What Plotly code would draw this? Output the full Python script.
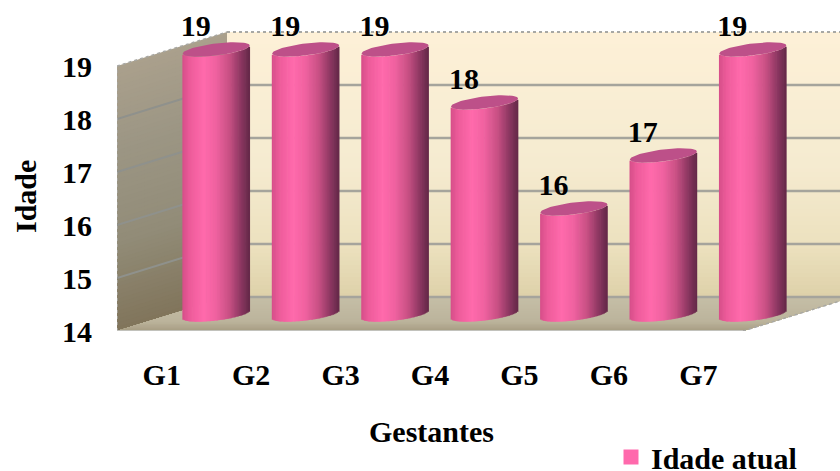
import numpy as np
import plotly.graph_objects as go

categories = ["G1", "G2", "G3", "G4", "G5", "G6", "G7"]
idade_atual = [19, 19, 19, 18, 16, 17, 19]
value_ticks = [14, 15, 16, 17, 18, 19]
series_name = "Idade atual"
x_title = "Gestantes"
y_title = "Idade"

FONT = "Liberation Serif"
FONT_SIZE = 30
BASE = 14

# Chart box in pixels, used to keep the oblique projection proportional
PLOT_LEFT, PLOT_BOTTOM = 117, 331
W, H = 840, 471
PX_PER_CAT = 89.43
PX_PER_UNIT = 53.0

# Oblique projection: how far the full depth of the box moves a point
DEPTH_X = 110 / PX_PER_CAT
DEPTH_Y = 34 / PX_PER_UNIT
X0 = -0.5
X1 = X0 + len(categories)

x_range = [X0, X0 + (W - PLOT_LEFT) / PX_PER_CAT]
y_range = [BASE, BASE + PLOT_BOTTOM / PX_PER_UNIT]

bold = dict(family=FONT, size=FONT_SIZE, color="#000", weight=700)


def ramp(stops, t):
    pos = [s[0] for s in stops]
    rgb = [np.interp(t, pos, [s[1][c] for s in stops]) for c in range(3)]
    return "rgb(%d,%d,%d)" % tuple(int(round(c)) for c in rgb)


def poly(points, fill):
    path = "M " + " L ".join(f"{x:.4f},{y:.4f}" for x, y in points) + " Z"
    return dict(type="path", path=path, xref="x", yref="y", layer="below",
                fillcolor=fill, line=dict(width=0))


def seg(p, q, color, width, dash="solid"):
    return dict(type="line", xref="x", yref="y", layer="below",
                x0=p[0], y0=p[1], x1=q[0], y1=q[1],
                line=dict(color=color, width=width, dash=dash))


BACK_WALL = [(0, (221, 208, 168)), (0.2, (236, 225, 190)), (0.5, (245, 235, 208)),
             (1, (253, 240, 215))]
SIDE_WALL = [(0, (128, 116, 90)), (0.35, (146, 140, 120)), (0.7, (156, 150, 132)),
             (1, (170, 160, 140))]
FLOOR = [(0, (165, 155, 128)), (0.3, (188, 180, 156)), (1, (196, 190, 166))]

top = max(value_ticks)
shapes = []
bands = 66

# Back wall, side wall: painted top-down so each band covers the seam beneath it
for k in range(bands, 0, -1):
    t = k / bands
    v = BASE + (top - BASE) * t
    shapes.append(poly([(X0 + DEPTH_X, BASE + DEPTH_Y), (X1 + DEPTH_X, BASE + DEPTH_Y),
                        (X1 + DEPTH_X, v + DEPTH_Y), (X0 + DEPTH_X, v + DEPTH_Y)],
                       ramp(BACK_WALL, t)))
    shapes.append(poly([(X0, BASE), (X0 + DEPTH_X, BASE + DEPTH_Y),
                        (X0 + DEPTH_X, v + DEPTH_Y), (X0, v)],
                       ramp(SIDE_WALL, t)))

# Floor, back to front in reverse order
for k in range(24, 0, -1):
    d = k / 24
    shapes.append(poly([(X0, BASE), (X1, BASE),
                        (X1 + DEPTH_X * d, BASE + DEPTH_Y * d),
                        (X0 + DEPTH_X * d, BASE + DEPTH_Y * d)],
                       ramp(FLOOR, d)))

# Gridlines across both walls
for v in value_ticks:
    if v == top:
        continue
    shapes.append(seg((X0 + DEPTH_X, v + DEPTH_Y), (X1 + DEPTH_X, v + DEPTH_Y), "#a5a49c", 2.5))
    if v != BASE:
        shapes.append(seg((X0, v), (X0 + DEPTH_X, v + DEPTH_Y), "#8f918c", 2))

# Outline of the box
edge = "#a8a8a4"
shapes += [
    seg((X0, BASE), (X0, top), edge, 1.5, "dot"),
    seg((X0, top), (X0 + DEPTH_X, top + DEPTH_Y), edge, 1.5, "dot"),
    seg((X0 + DEPTH_X, top + DEPTH_Y), (X1 + DEPTH_X, top + DEPTH_Y), edge, 2, "dot"),
    seg((X0, BASE), (X1, BASE), "#c2c2bc", 2),
    seg((X1, BASE), (X1 + DEPTH_X, BASE + DEPTH_Y), edge, 1.5, "dot"),
]

# Cylinder geometry, centred halfway through the depth of the box
CYL_SHIFT_X = 54.5 / PX_PER_CAT
CYL_SHIFT_Y = 16.5 / PX_PER_UNIT
CYL_RX = 33.5 / PX_PER_CAT
CAP_TILT = 4 / PX_PER_UNIT
CAP_RY = 6 / PX_PER_UNIT

SHADE = [(0, (214, 78, 138)), (0.12, (238, 92, 155)), (0.32, (255, 106, 172)),
         (0.5, (240, 98, 160)), (0.7, (200, 80, 132)), (0.88, (138, 54, 96)),
         (1, (100, 40, 72))]

strips = 48
step = 2 * CYL_RX / strips
bar_x, bar_base, bar_h, bar_col = [], [], [], []
for i, val in enumerate(idade_atual):
    for s in range(strips):
        u = -1 + (2 * s + 1) / strips
        arc = CAP_TILT * u - CAP_RY * np.sqrt(1 - u * u)
        bar_x.append(i + CYL_SHIFT_X + u * CYL_RX)
        bar_base.append(BASE + CYL_SHIFT_Y + arc)
        bar_h.append(val - BASE)
        bar_col.append(ramp(SHADE, (u + 1) / 2))

fig = go.Figure()

fig.add_trace(go.Bar(
    x=bar_x, y=bar_h, base=bar_base, width=step * 1.5,
    marker=dict(color=bar_col, line=dict(width=0)),
    showlegend=False, hoverinfo="skip",
))

# Elliptical caps on top of each cylinder
theta = np.linspace(0, 2 * np.pi, 73)
cap_x, cap_y = [], []
for i, val in enumerate(idade_atual):
    cap_x += list(i + CYL_SHIFT_X + CYL_RX * np.cos(theta)) + [None]
    cap_y += list(val + CYL_SHIFT_Y + CAP_TILT * np.cos(theta) + CAP_RY * np.sin(theta)) + [None]
fig.add_trace(go.Scatter(
    x=cap_x, y=cap_y, mode="lines", fill="toself", fillcolor="#bd5089",
    line=dict(width=0), showlegend=False, hoverinfo="skip",
))

# Value labels above the caps
fig.add_trace(go.Scatter(
    x=[i + CYL_SHIFT_X - 20.5 / PX_PER_CAT for i in range(len(categories))],
    y=[v + CYL_SHIFT_Y + 21.5 / PX_PER_UNIT for v in idade_atual],
    text=[str(v) for v in idade_atual], mode="text", textposition="middle center",
    textfont=bold, cliponaxis=False, showlegend=False, hoverinfo="skip",
))

# Legend entry
fig.add_trace(go.Scatter(
    x=[None], y=[None], mode="markers", name=series_name,
    marker=dict(symbol="square", size=15, color="#ff69ac"),
))

fig.update_layout(
    width=W, height=H,
    margin=dict(l=PLOT_LEFT, r=0, t=0, b=H - PLOT_BOTTOM, pad=0, autoexpand=False),
    paper_bgcolor="white", plot_bgcolor="white",
    barmode="overlay", shapes=shapes,
    font=bold,
    xaxis=dict(range=x_range, tickmode="array", tickvals=list(range(len(categories))),
               ticktext=categories, showgrid=False, zeroline=False, showline=False,
               ticks="outside", ticklen=17, tickcolor="rgba(0,0,0,0)", tickfont=bold),
    yaxis=dict(range=y_range, tickmode="array", tickvals=value_ticks,
               showgrid=False, zeroline=False, showline=False,
               ticks="outside", ticklen=18, tickcolor="rgba(0,0,0,0)", tickfont=bold),
    legend=dict(x=(611 - PLOT_LEFT) / (W - PLOT_LEFT), xanchor="left",
                y=(PLOT_BOTTOM - 431) / PLOT_BOTTOM, yanchor="top",
                bgcolor="rgba(0,0,0,0)", borderwidth=0, font=bold),
    annotations=[
        dict(text=x_title, xref="paper", yref="paper", showarrow=False,
             x=(431 - PLOT_LEFT) / (W - PLOT_LEFT), y=(PLOT_BOTTOM - 431) / PLOT_BOTTOM,
             xanchor="center", yanchor="middle", font=bold),
        dict(text=y_title, xref="paper", yref="paper", showarrow=False, textangle=-90,
             x=(25 - PLOT_LEFT) / (W - PLOT_LEFT), y=(PLOT_BOTTOM - 197) / PLOT_BOTTOM,
             xanchor="center", yanchor="middle", font=bold),
    ],
)

fig.write_html("out.html", config=dict(displayModeBar=False))
